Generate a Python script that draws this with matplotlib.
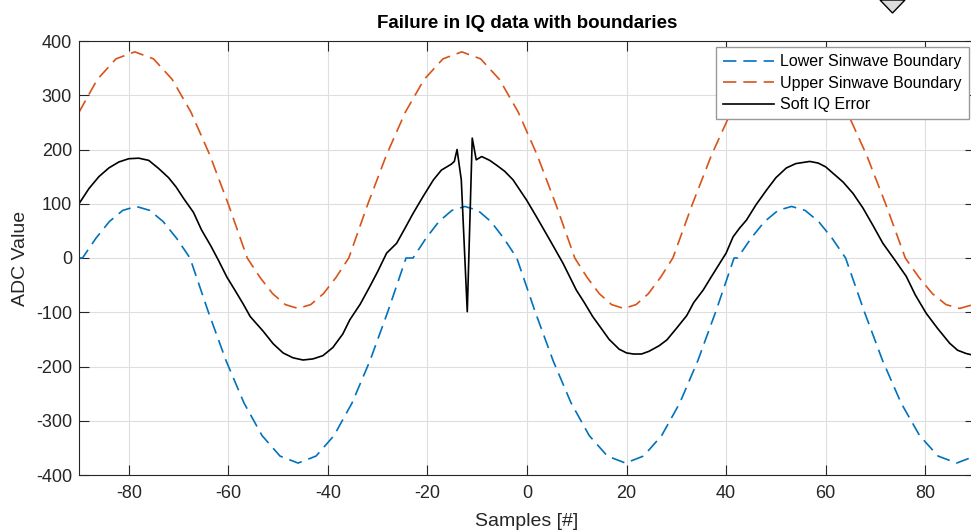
import matplotlib
matplotlib.use("Agg")
import matplotlib.pyplot as plt
from matplotlib.patches import Polygon

plt.rcParams["font.family"] = ["Liberation Sans", "DejaVu Sans"]
plt.rcParams["axes.unicode_minus"] = False

# lower sinwave boundary (blue dashed)
lower_x = [-90, -89.3, -86.6, -83.9, -81.2, -78.5, -75.8, -73.1, -70.4, -67.7,
           -64.08, -60.47, -56.85, -53.23, -49.62, -46.0, -42.38, -38.77, -35.15, -31.53, -27.92, -24.3,
           -22.9, -20.29, -17.69, -15.08, -12.48, -9.87, -7.26, -4.66, -2.05,
           1.59, 5.23, 8.86, 12.5, 16.14, 19.78, 23.41, 27.05, 30.69, 34.33, 37.96, 41.6,
           42.3, 45.01, 47.73, 50.44, 53.15, 55.86, 58.58, 61.29, 64.0,
           67.72, 71.43, 75.15, 78.87, 82.58, 86.3, 90.02]
lower_y = [0, 0, 36.4, 67.2, 87.8, 95, 87.8, 67.2, 36.4, 0,
           -97.8, -189, -267.3, -327.3, -365.1, -378, -365.1, -327.3, -267.3, -189, -97.8, 0,
           0, 36.4, 67.2, 87.8, 95, 87.8, 67.2, 36.4, 0,
           -97.8, -189, -267.3, -327.3, -365.1, -378, -365.1, -327.3, -267.3, -189, -97.8, 0,
           0, 36.4, 67.2, 87.8, 95, 87.8, 67.2, 36.4, 0,
           -97.8, -189, -267.3, -327.3, -365.1, -378, -365.1]

# upper sinwave boundary (orange dashed)
upper_x = [-90, -86.33, -82.57, -78.8, -75.03, -71.27, -67.5, -63.73, -59.97, -56.2,
           -53.65, -51.1, -48.55, -46.0, -43.45, -40.9, -38.35, -35.8,
           -32.02, -28.23, -24.45, -20.67, -16.88, -13.1, -9.32, -5.53, -1.75, 2.03, 5.82, 9.6,
           12.06, 14.53, 16.99, 19.45, 21.91, 24.38, 26.84, 29.3,
           33.19, 37.08, 40.97, 44.86, 48.75, 52.65, 56.54, 60.43, 64.32, 68.21, 72.1, 76.0,
           78.73, 81.45, 84.18, 86.9, 89.63, 92.35]
upper_y = [268.7, 329.1, 367.1, 380, 367.1, 329.1, 268.7, 190, 98.4, 0,
           -35.6, -65.8, -85.9, -93, -85.9, -65.8, -35.6, 0,
           98.4, 190, 268.7, 329.1, 367.1, 380, 367.1, 329.1, 268.7, 190, 98.4, 0,
           -35.6, -65.8, -85.9, -93, -85.9, -65.8, -35.6, 0,
           98.4, 190, 268.7, 329.1, 367.1, 380, 367.1, 329.1, 268.7, 190, 98.4, 0,
           -35.6, -65.8, -85.9, -93, -85.9, -65.8]

# measured IQ signal with the soft error near sample -12 (black)
error_x = [-90, -88, -86, -84, -82, -80, -78, -76, -74, -72, -70.5, -69, -67, -65.4, -63.5, -62,
           -60.3, -58.7, -57, -55.6, -53, -51, -49, -47, -45, -43, -41, -39, -37, -35.6, -33.5,
           -31.6, -30, -28.2, -26.2, -24.5, -22.9, -20.9, -18.8, -17.2, -15.2, -14.6, -14.05,
           -13.2, -12.0, -11.0, -10.2, -9.1, -7.5, -6.1, -4.5, -2.8, -0.1, 1.9, 4.6, 7.25, 9.9,
           11.5, 13.2, 14.7, 16.5, 18.5, 20, 21.4, 23, 24.5, 26.5, 28.1, 30, 32.1, 33.5, 35.4,
           37, 38.7, 40, 41.4, 42.7, 44.1, 46, 48.1, 50, 52.1, 54, 56.8, 58.5, 60, 61.5, 63.5,
           65.5, 67.5, 69.5, 71.5, 74, 76.2, 78, 80.2, 82.5, 84.9, 86.5, 88.2, 90]
error_y = [100, 128, 150, 166, 177, 183, 184, 180, 165, 148, 131, 110, 84, 52, 22, -4,
           -35, -59, -85, -108, -135, -158, -175, -184, -188, -186, -180, -165, -140, -114, -85,
           -53, -25, 9, 27, 55, 82, 113, 144, 162, 173, 178, 200,
           144, -99, 221, 181, 187, 180, 171, 160, 144, 107, 76, 33, -10, -59,
           -82, -108, -127, -150, -168, -175, -177, -177, -172, -162, -151, -130, -106, -82, -59,
           -35, -10, 9, 39, 55, 70, 98, 125, 148, 166, 174, 178, 175, 168, 156, 140,
           119, 92, 60, 27, -5, -34, -68, -102, -130, -157, -170, -176, -180]

x_ticks = list(range(-80, 81, 20))
y_ticks = list(range(-400, 401, 100))

W, H = 971, 532
fig = plt.figure(figsize=(W / 100, H / 100), dpi=100)
ax = fig.add_axes([79 / W, 1 - 475 / H, (975 - 79) / W, (475 - 41) / H])

blue = "#0072BD"
orange = "#D95319"
ax.plot(lower_x, lower_y, color=blue, lw=1.2, dashes=(8, 4.2), label="Lower Sinwave Boundary")
ax.plot(upper_x, upper_y, color=orange, lw=1.2, dashes=(8, 4.2), label="Upper Sinwave Boundary")
ax.plot(error_x, error_y, color="black", lw=1.2, label="Soft IQ Error")

ax.set_xlim(-90, 90)
ax.set_ylim(-400, 400)
ax.set_xticks(x_ticks)
ax.set_yticks(y_ticks)
ax.grid(True, color="#dedede", lw=0.8)
ax.set_axisbelow(True)
ax.tick_params(direction="in", length=7, width=0.8, top=True, right=True,
               colors="#262626", labelsize=13)
ax.tick_params(axis="x", pad=7)
ax.tick_params(axis="y", pad=5)
for s in ax.spines.values():
    s.set_color("#262626")
    s.set_linewidth(0.8)

ax.set_title("Failure in IQ data with boundaries", fontsize=13.5, fontweight="bold", pad=9)
ax.set_xlabel("Samples [#]", fontsize=14, color="#262626", labelpad=8)
ax.set_ylabel("ADC Value", fontsize=14, color="#262626", labelpad=5)

leg = ax.legend(loc="upper right", fontsize=11.5, fancybox=False, framealpha=1,
                edgecolor="#999999", borderaxespad=0.4, borderpad=0.44,
                handlelength=3.2, handletextpad=0.38, labelspacing=0.4)
leg.get_frame().set_linewidth(1.0)

# partial marker shape cut by the top edge of the screenshot
tri = Polygon([(880 / W, 1.0), (892.5 / W, 1 - 13 / H), (905 / W, 1.0)], closed=True,
              transform=fig.transFigure, facecolor="#dcdcdc", edgecolor="black", lw=1)
fig.patches.append(tri)

fig.savefig("out.png", dpi=100)
